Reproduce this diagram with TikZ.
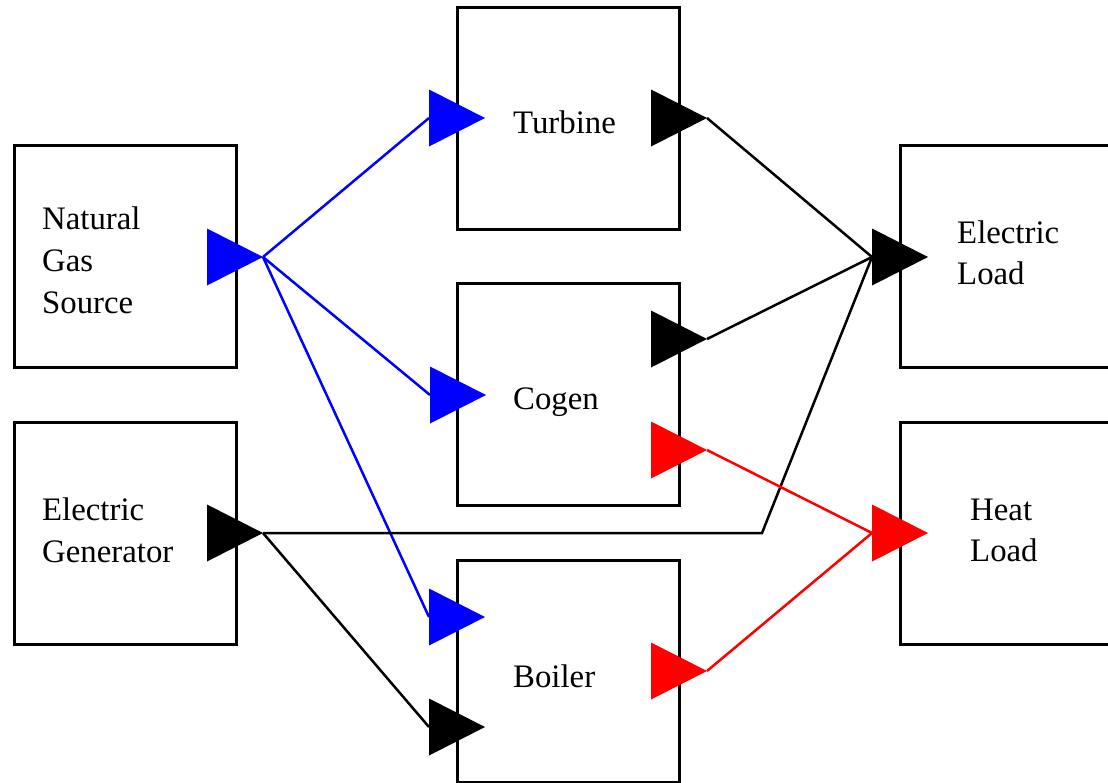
\documentclass[tikz,border=0pt]{standalone}
\usepackage{fontspec}
\setmainfont{Liberation Serif}
\begin{document}
\begin{tikzpicture}[x=1pt,y=-1pt,
  box/.style={draw=black,line width=3pt,minimum width=222pt,minimum height=222pt,inner sep=0pt,fill=white},
  lbl/.style={anchor=base west,inner sep=0pt,font=\fontsize{32.8}{42}\selectfont},
  wire/.style={line width=2.5pt},
  bluewire/.style={wire,draw={rgb,255:red,0;green,0;blue,255}},
  redwire/.style={wire,draw={rgb,255:red,255;green,0;blue,0}},
  blackwire/.style={wire,draw=black}]
\useasboundingbox (0,0) rectangle (1108,782);
\clip (0,0) rectangle (1108,782);
% boxes
\node[box] (ng) at (125,256) {};
\node[box] (gen) at (125,533.5) {};
\node[box] (tur) at (568,118) {};
\node[box] (cog) at (568,394.5) {};
\node[box] (boil) at (568,671.5) {};
\node[box] (el) at (1011,256.5) {};
\node[box] (hl) at (1011,533) {};
% labels
\node[lbl] (ngl1) at (42,229.5) {Natural};
\node[lbl] (ngl2) at (42,271.5) {Gas};
\node[lbl] (ngl3) at (42,313.5) {Source};
\node[lbl] (genl1) at (42,520) {Electric};
\node[lbl] (genl2) at (42,562) {Generator};
\node[lbl] (turl) at (513,133) {Turbine};
\node[lbl] (cogl) at (513,409) {Cogen};
\node[lbl] (boill) at (513,687) {Boiler};
\node[lbl] (ell1) at (957,243) {Electric};
\node[lbl] (ell2) at (957,284) {Load};
\node[lbl] (hll1) at (970,520) {Heat};
\node[lbl] (hll2) at (970,561) {Load};
% port coordinates: base midpoint (-b) and tip (-t)
\foreach \n/\x/\y in {ngout/207/257, genout/207/533, turin/429/118, turout/651/118,
  cogin/430/395, cogoute/651/339, cogouth/651/450, boilin1/429/617, boilin2/429/727,
  boilout/651/671, elin/872/257, hlin/872/533}{
  \coordinate (\n-b) at (\x,\y);
  \coordinate (\n-t) at (\x+56,\y);
  \coordinate (\n-u) at (\x,\y-28.5);
  \coordinate (\n-d) at (\x,\y+28.5);
}
\coordinate (bend) at (762,533);
% connectors
\draw[bluewire] (ngout-t) -- (turin-b);
\draw[bluewire] (ngout-t) -- (cogin-b);
\draw[bluewire] (ngout-t) -- (boilin1-b);
\draw[blackwire] (turout-t) -- (elin-b);
\draw[blackwire] (cogoute-t) -- (elin-b);
\draw[blackwire,line join=miter] (genout-t) -- (bend) -- (elin-b);
\draw[blackwire] (genout-t) -- (boilin2-b);
\draw[redwire] (cogouth-t) -- (hlin-b);
\draw[redwire] (boilout-t) -- (hlin-b);
% port triangles
\foreach \n/\c in {ngout/blue, turin/blue, cogin/blue, boilin1/blue,
  turout/black, cogoute/black, genout/black, boilin2/black, elin/black,
  cogouth/red, boilout/red, hlin/red}{
  \fill[\c] (\n-u) -- (\n-t) -- (\n-d) -- cycle;
}
\end{tikzpicture}
\end{document}
